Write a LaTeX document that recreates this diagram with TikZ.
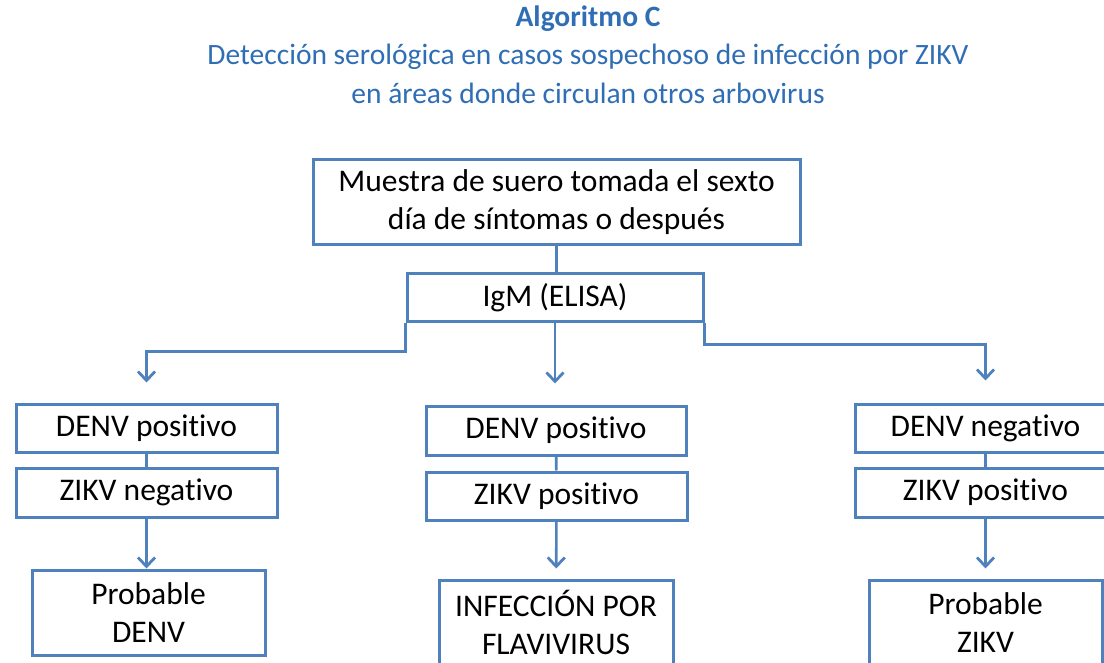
\documentclass[tikz,border=0pt]{standalone}
\usepackage{fontspec}
\setmainfont{Carlito}[Ligatures=NoCommon]
\usetikzlibrary{arrows.meta}
\definecolor{titleblue}{HTML}{2F6EB5}
\definecolor{boxblue}{HTML}{4F81BD}
\begin{document}
\begin{tikzpicture}[x=1pt,y=-1pt,
  box/.style={draw=boxblue,line width=3pt,align=center,inner sep=0pt,
    font=\fontsize{31.5}{38}\selectfont},
  conn/.style={draw=boxblue,line width=2.6pt},
  arr/.style={conn,-{Straight Barb[length=9pt,width=17pt,line width=2.8pt]}},
  ttl/.style={text=titleblue,font=\fontsize{29.5}{34}\selectfont}]
\useasboundingbox (0,0) rectangle (1104,663);
% title
\node[ttl,font=\fontsize{29.5}{34}\selectfont\bfseries] (title) at (588,19) {Algoritmo C};
\node[ttl] (sub1) at (588,57) {Detección serológica en casos sospechoso de infección por ZIKV};
\node[ttl] (sub2) at (588,93) {en áreas donde circulan otros arbovirus};
% boxes
\node[box,minimum width=487pt,minimum height=85pt] (muestra) at (556.5,202.5) {Muestra de suero tomada el sexto\\día de síntomas o después};
\node[box,minimum width=296pt,minimum height=48pt] (igm) at (555,298) {IgM (ELISA)};
\node[box,minimum width=261pt,minimum height=48pt] (dpos1) at (146.5,428) {DENV positivo};
\node[box,minimum width=261pt,minimum height=49pt] (zneg1) at (146.5,492.5) {ZIKV negativo};
\node[box,minimum width=233pt,minimum height=85pt] (probD) at (148.5,612.5) {Probable\\DENV};
\node[box,minimum width=260pt,minimum height=49pt] (dpos2) at (556,430.5) {DENV positivo};
\node[box,minimum width=261pt,minimum height=48pt] (zpos2) at (556.5,496) {ZIKV positivo};
\node[box,minimum width=234pt,minimum height=85pt] (flavi) at (556,622.5) {INFECCIÓN POR\\FLAVIVIRUS};
\node[box,minimum width=261pt,minimum height=48pt] (dneg3) at (985.5,428) {DENV negativo};
\node[box,minimum width=261pt,minimum height=49pt] (zpos3) at (985.5,492.5) {ZIKV positivo};
\node[box,minimum width=233pt,minimum height=85pt] (probZ) at (985.5,622.5) {Probable\\ZIKV};
% connectors
\draw[conn] (muestra.south) -- (muestra.south |- igm.north);
\draw[arr,shorten >=20pt] (igm.south west) -- ++(0,28) -| (dpos1.north);
\draw[arr,shorten >=21pt] (igm.south) -- (igm.south |- dpos2.north);
\draw[arr,shorten >=22pt] (igm.south east) -- ++(0,21) -| (dneg3.north);
\draw[conn] (dpos1) -- (zneg1);
\draw[conn] (dpos2) -- (zpos2);
\draw[conn] (dneg3) -- (zpos3);
\draw[arr] (zneg1.south) -- (zneg1.south |- probD.north);
\draw[arr,shorten >=10pt] (zpos2) -- (flavi);
\draw[arr,shorten >=10pt] (zpos3) -- (probZ);
\end{tikzpicture}
\end{document}
